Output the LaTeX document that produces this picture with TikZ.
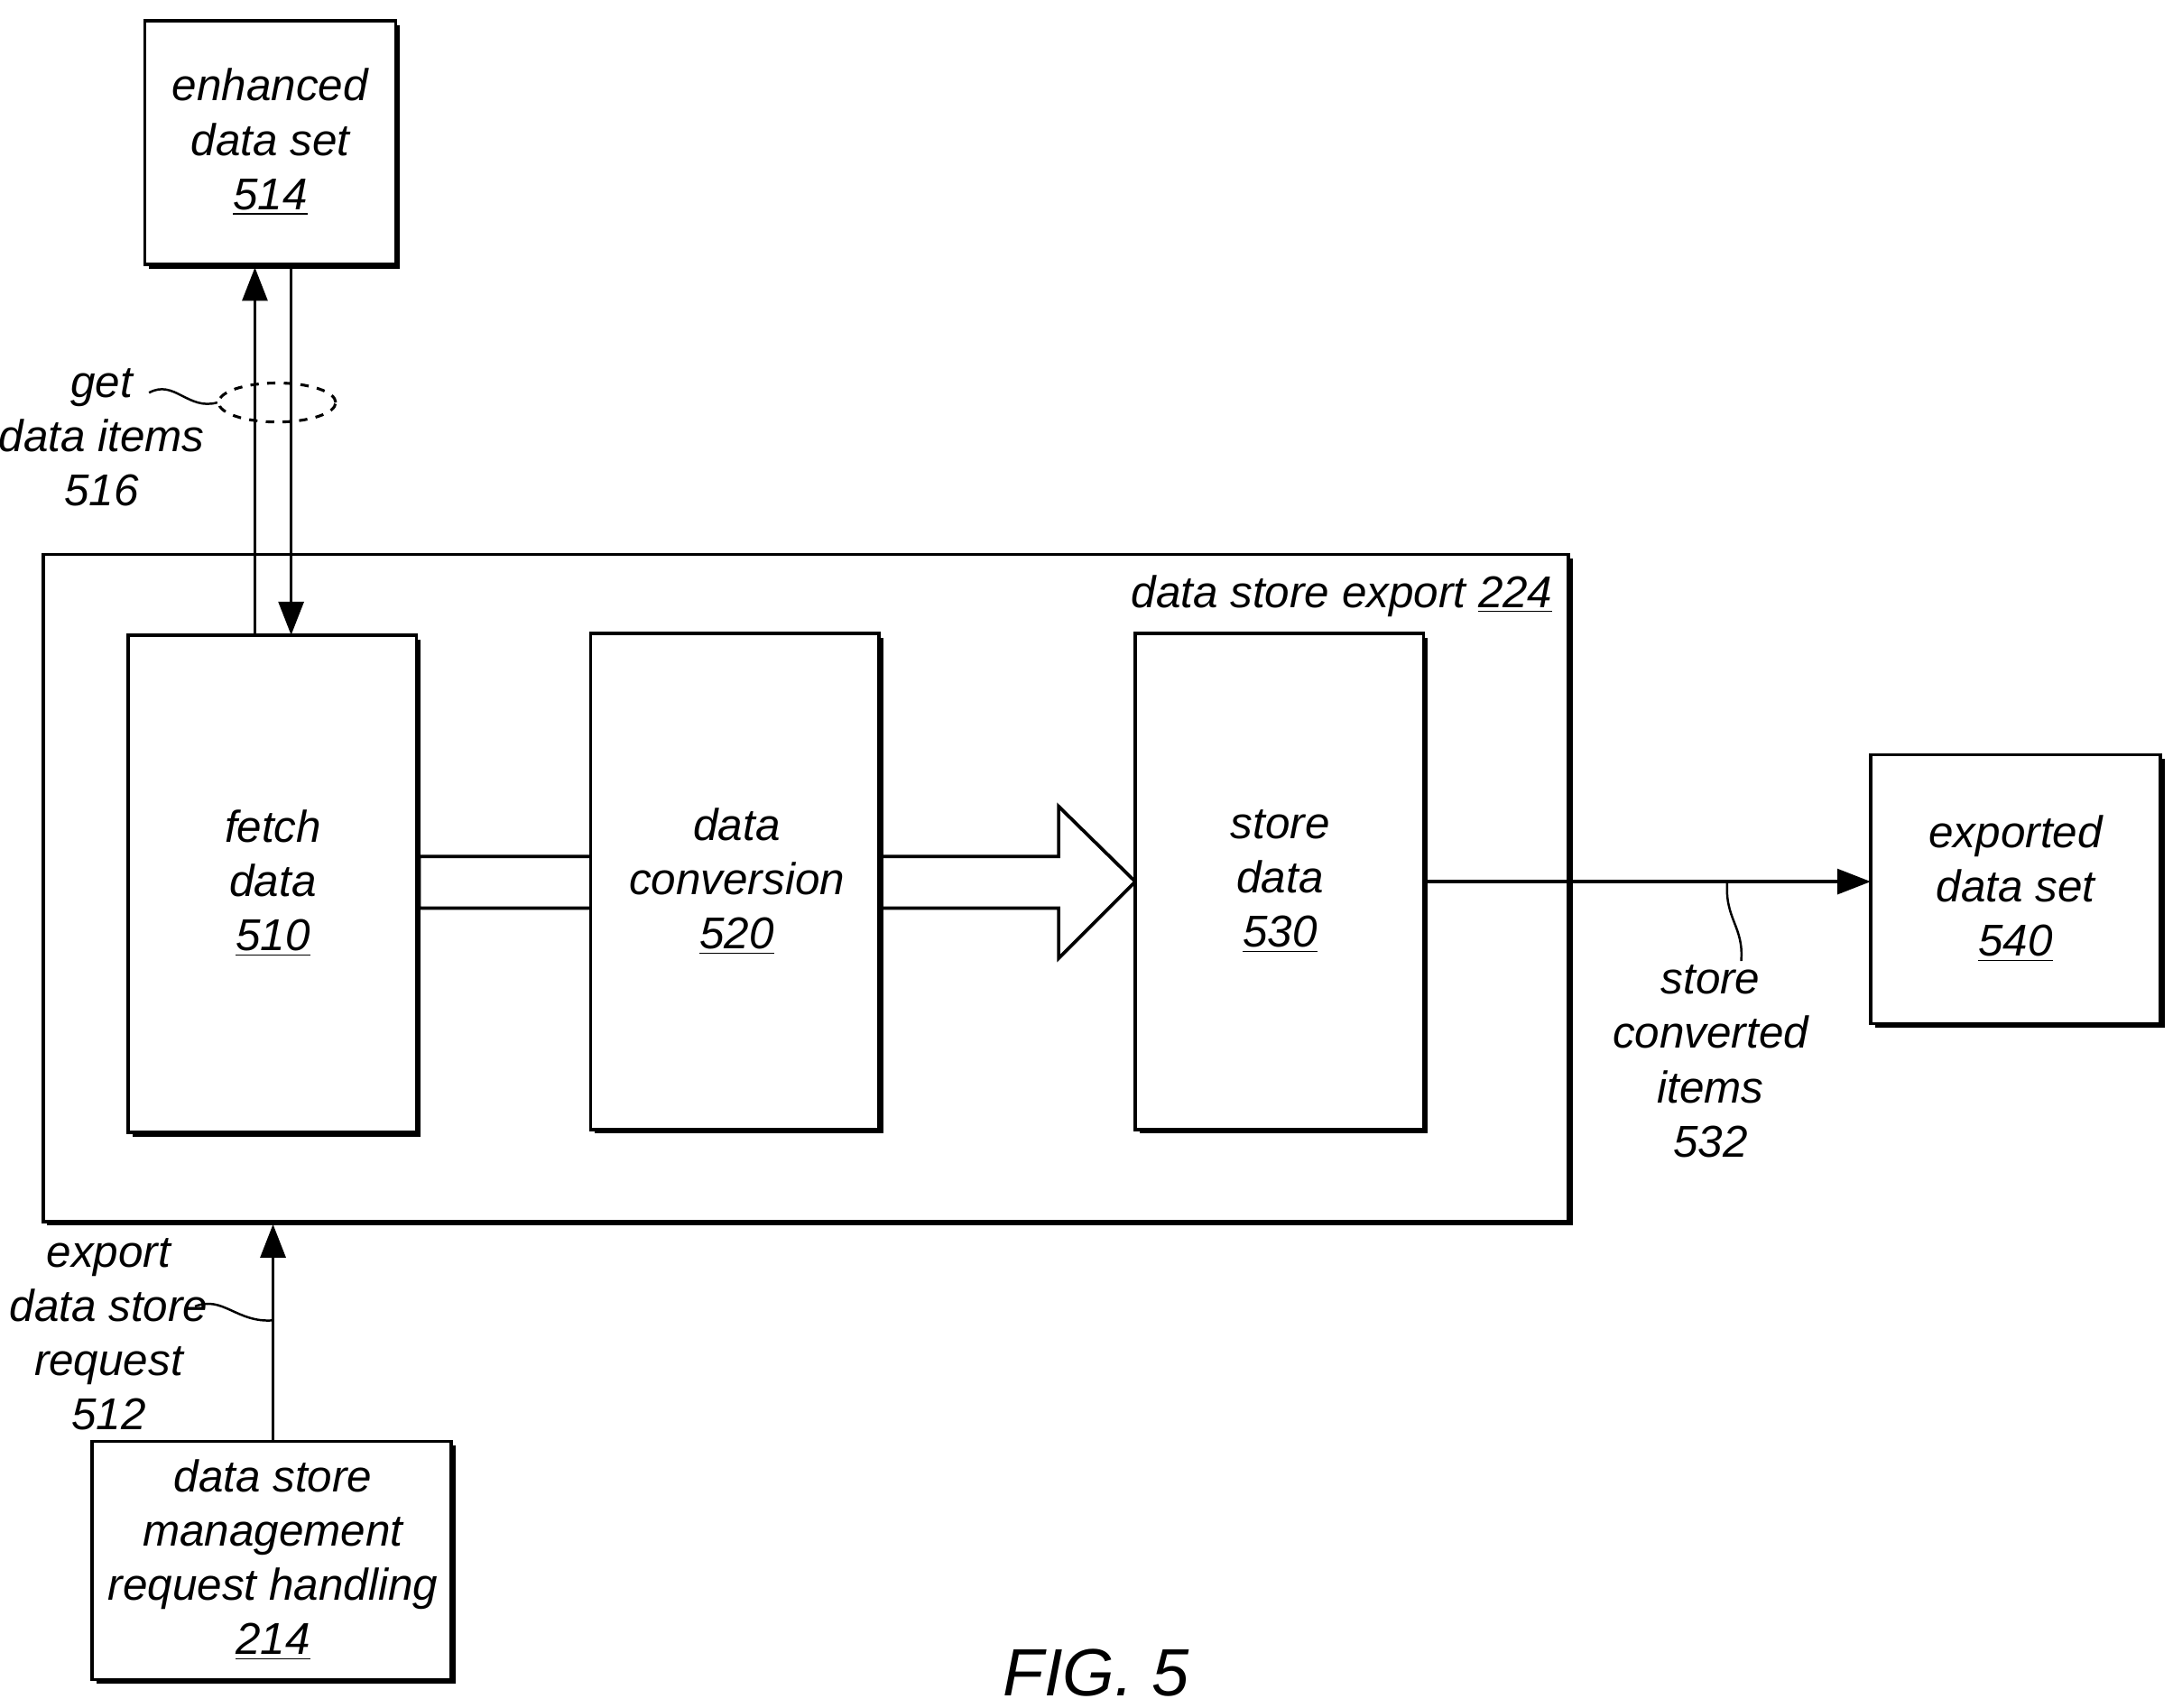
\documentclass[tikz,border=0pt]{standalone}
\usepackage{fontspec}
\setmainfont{Liberation Sans}
\usetikzlibrary{arrows.meta,shapes.geometric}
\begin{document}
\begin{tikzpicture}[x=0.5pt,y=-0.5pt,
  txt/.style={font=\fontsize{16}{19.5}\selectfont\itshape,align=center,inner sep=0pt},
  box/.style={draw,line width=1.2pt,fill=white},
  arr/.style={line width=1.2pt,-{Triangle[length=12pt,width=9pt]}},
  sq/.style={line width=0.8pt}]
\useasboundingbox (0,0) rectangle (1560,1226);
\newcommand{\shbox}[5]{% name x1 y1 x2 y2
  \fill (#2+3,#3+3) rectangle (#4+3,#5+3);
  \draw[box] (#2,#3) rectangle (#4,#5);
  \coordinate (#1) at ({(#2+#4)/2},{(#3+#5)/2});}
\shbox{cont}{31}{398}{1126}{877}
% wide arrow
\draw[line width=1.2pt,fill=white] (301,615) -- (760,615) -- (760,579) -- (815,633) -- (760,688) -- (760,652) -- (301,652) -- cycle;
\shbox{fetch}{92}{456}{299}{813}
\shbox{conv}{424}{455}{631}{811}
\shbox{store}{815}{455}{1022}{811}
\shbox{enh}{104}{15}{284}{190}
\shbox{exp}{1343}{542}{1551}{735}
\shbox{req}{66}{1035}{324}{1206}
\node[txt] at (196,634) {fetch\\data\\\underline{510}};
\node[txt] at (529,633) {data\\conversion\\\underline{520}};
\node[txt] at (919,633) {store\\data\\\underline{530}};
\node[txt] at (194,102) {enhanced\\data set\\\underline{514}};
\node[txt] at (1447,638) {exported\\data set\\\underline{540}};
\node[txt] at (196,1120) {data store\\management\\request handling\\\underline{214}};
\node[txt,anchor=east] at (1115,428) {data store export \underline{224}};
\coordinate (a1) at (183,456); \coordinate (a2) at (183,192);
\coordinate (b1) at (209,192); \coordinate (b2) at (209,456);
\draw[arr] (a1) -- (a2);
\draw[arr] (b1) -- (b2);
\node[draw,dashed,line width=1pt,ellipse,minimum width=42pt,minimum height=14pt,inner sep=0pt] (ell) at (199,289) {};
\node[txt] (l516) at (73,314) {get\\data items\\516};
\draw[sq] (107,282) .. controls (125,272) and (135,295) .. (ell.west);
\coordinate (s1) at (1024,633); \coordinate (s2) at (1343,633);
\draw[arr] (s1) -- (s2);
\node[txt] at (1228,762) {store\\converted\\items\\532};
\draw[sq] (1240,633) .. controls (1238,660) and (1252,665) .. (1250,690);
\coordinate (r1) at (196,1035); \coordinate (r2) at (196,879);
\draw[arr] (r1) -- (r2);
\node[txt] at (78,958) {export\\data store\\request\\512};
\draw[sq] (140,938) .. controls (160,930) and (170,950) .. (196,948);
\node[font=\fontsize{24}{28}\selectfont\itshape] at (787,1201) {FIG. 5};
\end{tikzpicture}
\end{document}
